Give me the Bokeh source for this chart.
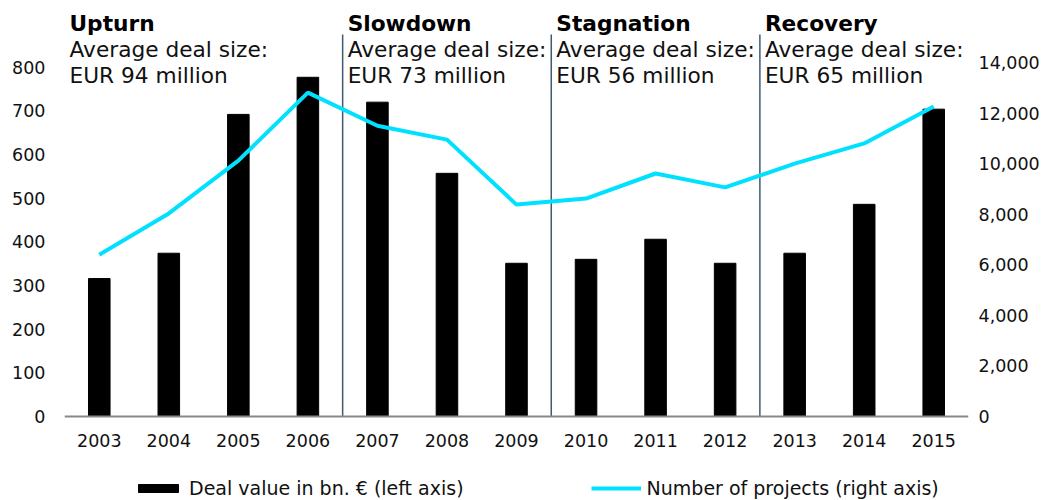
from bokeh.plotting import figure
from bokeh.models import (Range1d, LinearAxis, FixedTicker, NumeralTickFormatter,
                          Legend, LegendItem)
from bokeh.core.properties import value
from bokeh.embed import file_html
from bokeh.resources import INLINE

years = [2003, 2004, 2005, 2006, 2007, 2008, 2009, 2010, 2011, 2012, 2013, 2014, 2015]
deal_value = [316, 374, 692, 777, 720, 557, 351, 360, 406, 351, 374, 486, 704]
projects = [6400, 8030, 10120, 12810, 11500, 10950, 8380, 8620, 9610, 9060, 10000, 10800, 12260]

left_ticks = [0, 100, 200, 300, 400, 500, 600, 700, 800]
right_ticks = [0, 2000, 4000, 6000, 8000, 10000, 12000, 14000]

periods = ["Upturn", "Slowdown", "Stagnation", "Recovery"]
avg_deal = [94, 73, 56, 65]
period_start = [2002.5, 2006.5, 2009.5, 2012.5]
separators = [2006.5, 2009.5, 2012.5]

FONT = "DejaVu Sans"
CYAN = "#00E1FF"

# frame spans y=10..500 px; value 0 sits at y=416 px
p = figure(frame_width=904, frame_height=490,
           x_range=Range1d(2002.5, 2015.5), y_range=Range1d(-192.4, 930),
           output_backend="svg", toolbar_location=None,
           min_border_left=64, min_border_right=72,
           min_border_top=10, min_border_bottom=0)
p.extra_y_ranges = {"right": Range1d(-3322, 16056)}
p.outline_line_color = None
p.xgrid.visible = False
p.ygrid.visible = False
p.background_fill_color = "white"

# x axis, pinned at value 0
p.xaxis.fixed_location = 0
p.xaxis.ticker = FixedTicker(ticks=years)
p.xaxis.axis_line_color = "#888888"
p.xaxis.axis_line_width = 2
p.xaxis.major_tick_line_color = None
p.xaxis.minor_tick_line_color = None
p.xaxis.major_tick_out = 0
p.xaxis.major_tick_in = 0
p.xaxis.major_label_standoff = 17
p.xaxis.major_label_text_font = FONT
p.xaxis.major_label_text_font_size = "17.5px"
p.xaxis.major_label_text_color = "#111111"

# left axis
p.yaxis.ticker = FixedTicker(ticks=left_ticks)
p.yaxis.axis_line_color = None
p.yaxis.major_tick_line_color = None
p.yaxis.minor_tick_line_color = None
p.yaxis.major_tick_out = 0
p.yaxis.major_tick_in = 0
p.yaxis.major_label_standoff = 19
p.yaxis.major_label_text_font = FONT
p.yaxis.major_label_text_font_size = "17.5px"
p.yaxis.major_label_text_color = "#111111"

# right axis
ax_r = LinearAxis(y_range_name="right", ticker=FixedTicker(ticks=right_ticks),
                  formatter=NumeralTickFormatter(format="0,0"))
ax_r.axis_line_color = None
ax_r.major_tick_line_color = None
ax_r.minor_tick_line_color = None
ax_r.major_tick_out = 0
ax_r.major_tick_in = 0
ax_r.major_label_standoff = 10
ax_r.major_label_text_font = FONT
ax_r.major_label_text_font_size = "17.5px"
ax_r.major_label_text_color = "#111111"
p.add_layout(ax_r, "right")

# separators
p.segment(x0=separators, y0=[0] * len(separators), x1=separators, y1=[875] * len(separators),
          line_color="#3F5B70", line_width=1.5)

# bars and line
r_bar = p.vbar(x=years, top=deal_value, width=0.31, fill_color="black", line_color="black")
r_line = p.line(x=years, y=projects, y_range_name="right", line_color=CYAN, line_width=4)

# period texts
offs = [5, 5, 5, 5]
p.text(x=period_start, y=[901] * 4, text=periods, x_offset=offs,
       text_font=value(FONT), text_font_style="bold", text_font_size="21.7px",
       text_color="black", text_baseline="alphabetic")
p.text(x=period_start, y=[840.5] * 4, text=["Average deal size:"] * 4, x_offset=offs,
       text_font=value(FONT), text_font_size="21.7px",
       text_color="#111111", text_baseline="alphabetic")
p.text(x=period_start, y=[781] * 4, text=[f"EUR {v} million" for v in avg_deal],
       x_offset=offs,
       text_font=value(FONT), text_font_size="21.7px",
       text_color="#111111", text_baseline="alphabetic")

legend = Legend(items=[LegendItem(label="Deal value in bn. € (left axis)", renderers=[r_bar]),
                       LegendItem(label="Number of projects (right axis)", renderers=[r_line])],
                orientation="horizontal", location=(69, 1))
legend.glyph_width = 50
legend.glyph_height = 10
legend.label_standoff = 6
legend.spacing = 127
legend.padding = 0
legend.margin = 0
legend.border_line_alpha = 0
legend.background_fill_alpha = 0
legend.label_text_font = FONT
legend.label_text_font_size = "19px"
legend.label_text_color = "#111111"
p.add_layout(legend, "center")

open("out.html", "w").write(file_html(p, INLINE))
